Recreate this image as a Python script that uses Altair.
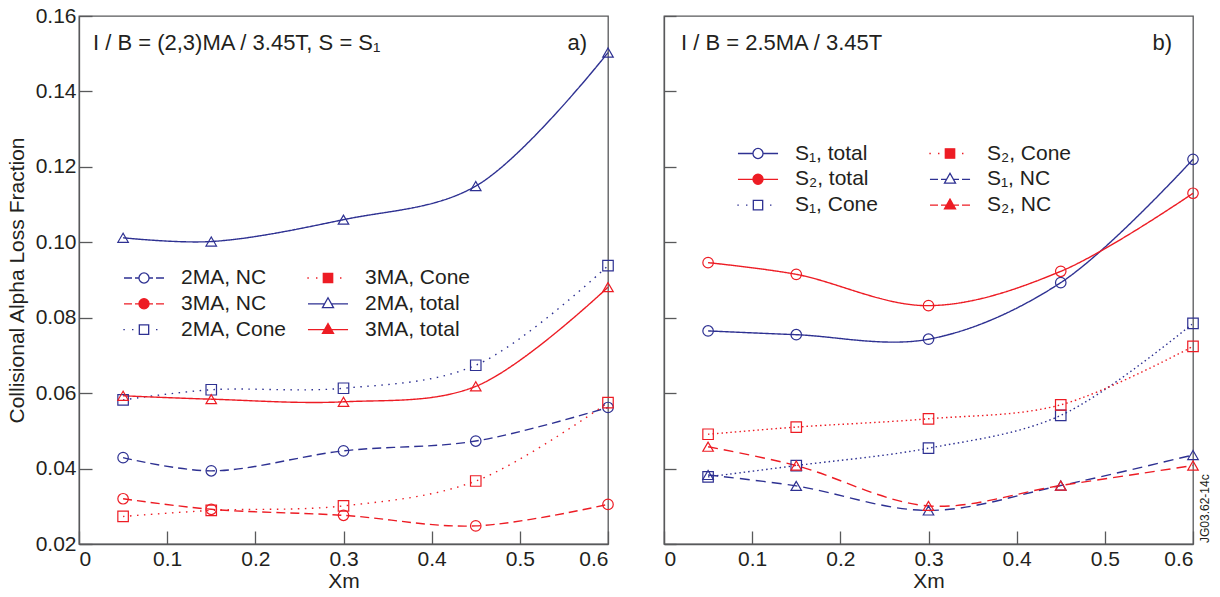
import altair as alt
import pandas as pd

FONT = "Liberation Sans, Arial, Helvetica, sans-serif"
TXT = "#231F20"
BLUE = "#2E3192"
RED = "#ED1C24"
FRAME = "#58595B"

# ---------------- data ----------------
xm = [0.05, 0.15, 0.30, 0.45, 0.60]

# panel a) I/B = (2,3)MA / 3.45T, S = S1
a_2ma_nc = [0.0429, 0.0394, 0.0447, 0.0473, 0.0562]
a_3ma_nc = [0.0320, 0.0292, 0.0276, 0.0248, 0.0305]
a_2ma_cone = [0.0582, 0.0609, 0.0613, 0.0674, 0.0938]
a_3ma_cone = [0.0273, 0.0289, 0.0301, 0.0367, 0.0575]
a_2ma_total = [0.1012, 0.1002, 0.1060, 0.1149, 0.1503]
a_3ma_total = [0.0593, 0.0584, 0.0577, 0.0618, 0.0881]

# panel b) I/B = 2.5MA / 3.45T
b_s1_total = [0.0765, 0.0755, 0.0743, 0.0893, 0.1220]
b_s2_total = [0.0946, 0.0915, 0.0832, 0.0923, 0.1130]
b_s1_cone = [0.0378, 0.0408, 0.0454, 0.0541, 0.0785]
b_s2_cone = [0.0491, 0.0510, 0.0532, 0.0569, 0.0724]
b_s1_nc = [0.0383, 0.0354, 0.0289, 0.0355, 0.0436]
b_s2_nc = [0.0458, 0.0408, 0.0301, 0.0355, 0.0408]

a_names = ["2MA, NC", "3MA, NC", "2MA, Cone", "3MA, Cone", "2MA, total", "3MA, total"]
a_lists = [a_2ma_nc, a_3ma_nc, a_2ma_cone, a_3ma_cone, a_2ma_total, a_3ma_total]
b_names = ["S\u2081, total", "S\u2082, total", "S\u2081, Cone", "S\u2082, Cone", "S\u2081, NC", "S\u2082, NC"]
b_lists = [b_s1_total, b_s2_total, b_s1_cone, b_s2_cone, b_s1_nc, b_s2_nc]

x_ticks = [0, 0.1, 0.2, 0.3, 0.4, 0.5, 0.6]
y_ticks = [0.02, 0.04, 0.06, 0.08, 0.10, 0.12, 0.14, 0.16]


def frame(names, lists):
    rows = []
    for n, vals in zip(names, lists):
        for xv, yv in zip(xm, vals):
            rows.append({"series": n, "xm": xv, "value": yv})
    return pd.DataFrame(rows)


# ---------------- legend symbol paths (line sample + marker) ----------------
def circle(r=0.42):
    return f"M{-r},0A{r},{r} 0 1 1 {r},0A{r},{r} 0 1 1 {-r},0Z"


def square(h=0.39):
    return f"M{-h},{-h}H{h}V{h}H{-h}Z"


def triangle():
    return "M0,-0.5L0.46,0.32L-0.46,0.32Z"


def solid(g):
    return f"M-1.67,0H{-g}M{g},0H1.67"


def dashed(g):
    return f"M-1.67,0H-1.0M-0.75,0H{-g}M{g},0H0.75M1.0,0H1.67"


def dotted(g):
    return "M-1.72,0H-1.6M-1.0,0H-0.88M1.0,0H1.12"


SOLID = [1, 0]


def panel(names, lists, colors, dashes, shapes, fills, paths, header, tag,
          hx, leg_x, leg_y, col_pad, row_pad, left, with_code=False):
    df = frame(names, lists)
    base = alt.Chart(df)
    if left:
        yaxis = alt.Axis(values=y_ticks, format=".2f", title="Collisional Alpha Loss Fraction",
                         tickSize=alt.ExprRef(expr="-13"), labelPadding=16, titlePadding=8)
    else:
        yaxis = alt.Axis(values=y_ticks, labels=False, title=None,
                         tickSize=alt.ExprRef(expr="-12"))
    X = alt.X("xm:Q", scale=alt.Scale(domain=[0, 0.6], nice=False, zero=False),
              axis=alt.Axis(values=x_ticks, format="~g", title="Xm",
                            tickSize=alt.ExprRef(expr="-13"), labelPadding=17, titlePadding=1))
    Y = alt.Y("value:Q", scale=alt.Scale(domain=[0.02, 0.16], nice=False, zero=False), axis=yaxis)

    col_scale = alt.Scale(domain=names, range=colors)
    lines = base.mark_line(interpolate="catmull-rom", strokeWidth=1.4).encode(
        x=X, y=Y,
        color=alt.Color("series:N", scale=col_scale, legend=None),
        strokeDash=alt.StrokeDash("series:N", scale=alt.Scale(domain=names, range=dashes), legend=None),
    )
    points = base.mark_point(filled=False, size=110, strokeWidth=1.2, opacity=1).encode(
        x=X, y=Y,
        color=alt.Color("series:N", scale=col_scale, legend=None),
        shape=alt.Shape("series:N", scale=alt.Scale(domain=names, range=shapes), legend=None),
    )
    leg = alt.Legend(orient="none", legendX=leg_x, legendY=leg_y, columns=2, direction="vertical",
                     title=None, symbolSize=576, symbolStrokeWidth=1.3, labelFont=FONT,
                     labelFontSize=21, labelColor=TXT, labelOffset=24, columnPadding=col_pad,
                     rowPadding=row_pad, padding=0, labelLimit=400)
    carrier = base.transform_filter("false").mark_point(filled=True, opacity=1, strokeWidth=1.3).encode(
        x=X, y=Y,
        fill=alt.Fill("series:N", scale=alt.Scale(domain=names, range=fills), legend=leg),
        stroke=alt.Stroke("series:N", scale=alt.Scale(domain=names, range=colors), legend=leg),
        shape=alt.Shape("series:N", scale=alt.Scale(domain=names, range=paths), legend=leg),
    )
    hdr = alt.Chart(pd.DataFrame({"t": [header]})).mark_text(
        align="left", baseline="alphabetic", font=FONT, fontSize=22, color=TXT
    ).encode(x=alt.value(hx), y=alt.value(34), text="t:N")
    tg = alt.Chart(pd.DataFrame({"t": [tag]})).mark_text(
        align="right", baseline="alphabetic", font=FONT, fontSize=22, color=TXT
    ).encode(x=alt.value(508), y=alt.value(34), text="t:N")
    layers = [lines, points, carrier, hdr, tg]
    if with_code:
        code = alt.Chart(pd.DataFrame({"t": ["JG03.62-14c"]})).mark_text(
            align="left", baseline="middle", angle=270, font=FONT, fontSize=12, color=TXT
        ).encode(x=alt.value(541), y=alt.value(527), text="t:N")
        layers.append(code)
    return alt.layer(*layers).resolve_scale(
        color="independent", shape="independent", fill="independent",
        stroke="independent", strokeDash="independent"
    ).properties(width=529, height=528)


# panel a styles (2MA NC, 3MA NC, 2MA Cone, 3MA Cone, 2MA total, 3MA total)
a_colors = [BLUE, RED, BLUE, RED, BLUE, RED]
a_dashes = [[9, 5], [9, 5], [1.5, 5.5], [1.5, 5.5], SOLID, SOLID]
a_shapes = ["circle", "circle", "square", "square", "triangle-up", "triangle-up"]
a_fills = ["#ffffff", RED, "#ffffff", RED, "#ffffff", RED]
a_paths = [dashed(0.42) + circle(), dashed(0.42) + circle(), dotted(0.4) + square(),
           dotted(0.4) + square(), solid(0.28) + triangle(), solid(0.28) + triangle()]

# panel b styles (S1 total, S2 total, S1 Cone, S2 Cone, S1 NC, S2 NC)
b_colors = [BLUE, RED, BLUE, RED, BLUE, RED]
b_dashes = [SOLID, SOLID, [1.5, 3], [1.5, 3], [10, 6], [10, 6]]
b_shapes = ["circle", "circle", "square", "square", "triangle-up", "triangle-up"]
b_fills = ["#ffffff", RED, "#ffffff", RED, "#ffffff", RED]
b_paths = [solid(0.42) + circle(), solid(0.42) + circle(), dotted(0.4) + square(),
           dotted(0.4) + square(), dashed(0.28) + triangle(), dashed(0.28) + triangle()]

pa = panel(a_names, a_lists, a_colors, a_dashes, a_shapes, a_fills, a_paths,
           "I / B = (2,3)MA / 3.45T, S = S\u2081", "a)", 14, 52, 249, 17, 2.8, True)
pb = panel(b_names, b_lists, b_colors, b_dashes, b_shapes, b_fills, b_paths,
           "I / B = 2.5MA / 3.45T", "b)", 17, 81, 124.5, 48, 2.8, False, with_code=True)

chart = alt.hconcat(pa, pb, spacing=56, bounds="flush").properties(
    padding={"left": 5, "top": 4, "right": 5, "bottom": 5}
).configure_view(
    stroke=FRAME, strokeWidth=1.3
).configure_axis(
    domainColor=FRAME, domainWidth=1.3, tickColor=FRAME, tickWidth=1.3, grid=False,
    labelFont=FONT, labelFontSize=21, labelColor=TXT,
    titleFont=FONT, titleFontSize=21, titleColor=TXT, titleFontWeight="normal"
)

chart.save("out.html", embed_options={"renderer": "svg", "actions": False})
